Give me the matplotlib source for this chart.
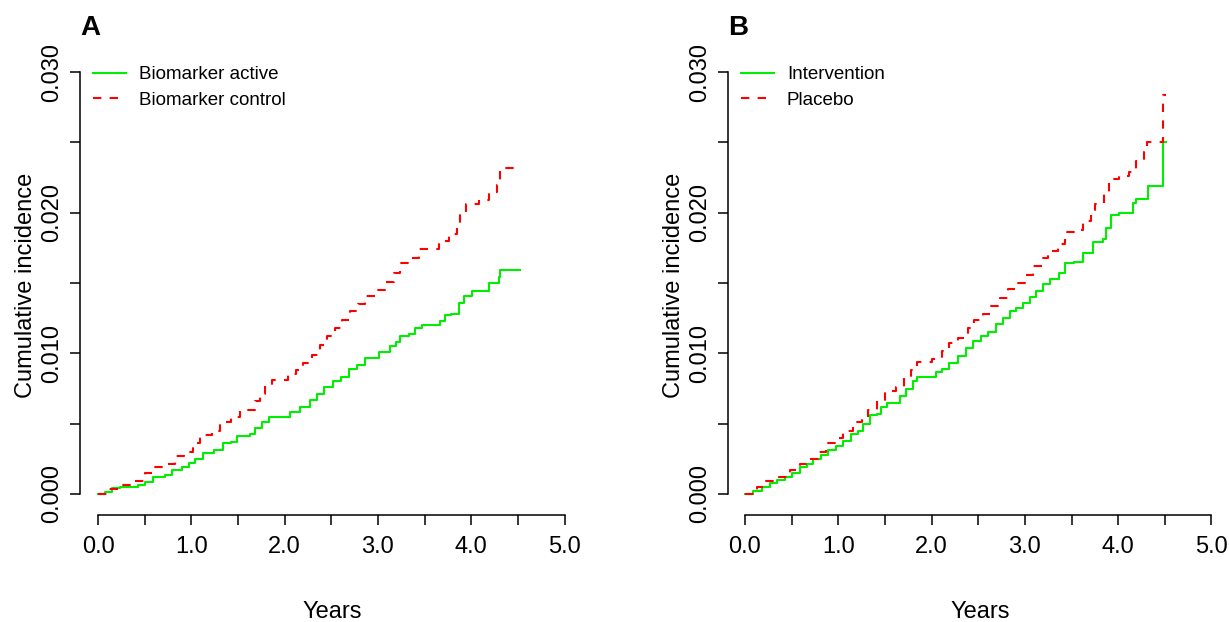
import numpy as np
import matplotlib
matplotlib.use("Agg")
import matplotlib.pyplot as plt
from matplotlib.ticker import FixedLocator, FuncFormatter

plt.rcParams['font.family'] = ['Liberation Sans', 'DejaVu Sans']

# Panel A: biomarker groups (time in years, cumulative incidence)
a_active_t = [0.0, 0.075, 0.147, 0.236, 0.343, 0.43, 0.50, 0.59, 0.72, 0.79, 0.90, 0.97,
              1.04, 1.13, 1.24, 1.34, 1.43, 1.49, 1.63, 1.68, 1.76, 1.83, 2.06, 2.17,
              2.27, 2.35, 2.42, 2.52, 2.60, 2.69, 2.78, 2.86, 3.01, 3.13, 3.19, 3.24,
              3.33, 3.40, 3.47, 3.67, 3.72, 3.78, 3.87, 3.92, 4.01, 4.19, 4.30, 4.31, 4.52]
a_active_v = [0.0, 0.00016, 0.0004, 0.00048, 0.00052, 0.00064, 0.00088, 0.00123, 0.00135, 0.0017, 0.0019, 0.0022,
              0.0025, 0.0029, 0.0031, 0.0036, 0.0037, 0.0041, 0.0043, 0.0047, 0.0051, 0.0055, 0.0058, 0.0062,
              0.0067, 0.0071, 0.0076, 0.0080, 0.0083, 0.0089, 0.0092, 0.0097, 0.0101, 0.0105, 0.0108, 0.0112,
              0.0114, 0.0118, 0.0120, 0.0123, 0.0127, 0.0128, 0.0136, 0.0141, 0.0144, 0.0150, 0.0154, 0.0159, 0.0159]

a_control_t = [0.0, 0.11, 0.25, 0.40, 0.50, 0.59, 0.72, 0.83, 0.92, 1.02, 1.09, 1.22,
               1.31, 1.43, 1.52, 1.68, 1.74, 1.79, 1.86, 2.04, 2.12, 2.20, 2.29, 2.38,
               2.45, 2.54, 2.61, 2.70, 2.79, 2.86, 2.99, 3.08, 3.17, 3.24, 3.34, 3.44,
               3.65, 3.76, 3.85, 3.88, 3.94, 4.08, 4.19, 4.28, 4.31, 4.52]
a_control_v = [0.0, 0.00033, 0.00064, 0.00095, 0.0015, 0.0019, 0.0021, 0.0027, 0.0030, 0.0036, 0.0042, 0.0045,
               0.0051, 0.0055, 0.0060, 0.0066, 0.0071, 0.0077, 0.0081, 0.0085, 0.0088, 0.0093, 0.0099, 0.0106,
               0.0112, 0.0118, 0.0124, 0.0130, 0.0135, 0.0141, 0.0145, 0.0151, 0.0157, 0.0164, 0.0168, 0.0174,
               0.0180, 0.0185, 0.0191, 0.0200, 0.0206, 0.0209, 0.0215, 0.0220, 0.0232, 0.0232]

# Panel B: treatment groups
b_interv_t = [0.0, 0.09, 0.18, 0.27, 0.34, 0.43, 0.50, 0.59, 0.66, 0.73, 0.82, 0.89,
              0.98, 1.05, 1.14, 1.21, 1.27, 1.34, 1.41, 1.46, 1.52, 1.66, 1.73, 1.80,
              1.84, 2.05, 2.11, 2.19, 2.28, 2.37, 2.44, 2.53, 2.61, 2.69, 2.77, 2.84,
              2.91, 2.98, 3.05, 3.12, 3.19, 3.27, 3.37, 3.43, 3.53, 3.62, 3.73, 3.84,
              3.87, 3.92, 4.01, 4.16, 4.19, 4.32, 4.48, 4.51]
b_interv_v = [0.0, 0.00024, 0.00047, 0.0008, 0.0010, 0.0012, 0.0015, 0.0019, 0.0021, 0.0025, 0.0028, 0.0031,
              0.0034, 0.0038, 0.0043, 0.0045, 0.0050, 0.0056, 0.0057, 0.0062, 0.0065, 0.0070, 0.0075, 0.0080,
              0.0083, 0.0087, 0.0089, 0.0093, 0.0098, 0.0104, 0.0109, 0.0112, 0.0115, 0.0121, 0.0125, 0.0130,
              0.0132, 0.0136, 0.0140, 0.0144, 0.0149, 0.0153, 0.0157, 0.0164, 0.0165, 0.0171, 0.0179, 0.0181,
              0.0189, 0.0198, 0.0200, 0.0207, 0.0210, 0.0219, 0.0250, 0.0250]

b_placebo_t = [0.0, 0.125, 0.23, 0.36, 0.48, 0.59, 0.68, 0.78, 0.87, 0.98, 1.05, 1.16,
               1.25, 1.32, 1.41, 1.50, 1.62, 1.70, 1.78, 1.84, 2.00, 2.11, 2.19, 2.28,
               2.39, 2.46, 2.55, 2.64, 2.73, 2.82, 2.91, 3.00, 3.09, 3.18, 3.25, 3.35,
               3.43, 3.55, 3.62, 3.71, 3.75, 3.85, 3.90, 4.01, 4.12, 4.19, 4.28, 4.31,
               4.48, 4.51]
b_placebo_v = [0.0, 0.00047, 0.0009, 0.0012, 0.0017, 0.0021, 0.0025, 0.0030, 0.0036, 0.0040, 0.0045, 0.0051,
               0.0053, 0.0060, 0.0066, 0.0073, 0.0076, 0.0083, 0.0088, 0.0094, 0.0096, 0.0102, 0.0107, 0.0111,
               0.0118, 0.0124, 0.0128, 0.0134, 0.0139, 0.0146, 0.0150, 0.0156, 0.0162, 0.0168, 0.0173, 0.0178,
               0.0186, 0.0188, 0.0194, 0.0200, 0.0206, 0.0213, 0.0224, 0.0226, 0.0229, 0.0237, 0.0243, 0.0250,
               0.0284, 0.0284]

panels = [
    ("A", 80, -0.193, a_active_t, a_active_v, a_control_t, a_control_v,
     ["Biomarker active", "Biomarker control"]),
    ("B", 728, -0.182, b_interv_t, b_interv_v, b_placebo_t, b_placebo_v,
     ["Intervention", "Placebo"]),
]

W, H = 1229, 622
fig = plt.figure(figsize=(W / 100, H / 100), dpi=100)

x_ticks = np.arange(0, 5.01, 0.5)
y_ticks = np.arange(0, 0.0301, 0.005)

for letter, left_px, xmin, t1, v1, t2, v2, labels in panels:
    ax = fig.add_axes([left_px / W, (H - 515) / H, 500 / W, 460 / H])
    ax.step(t1, v1, where='post', color='#00ee00', lw=1.5, label=labels[0])
    ax.step(t2, v2, where='post', color='#ff0000', lw=1.5, dashes=(4, 4), label=labels[1])

    ax.set_xlim(xmin, xmin + 500 / 93.3)
    ax.set_ylim(-0.001493, 0.03121)
    for s in ['top', 'right']:
        ax.spines[s].set_visible(False)
    ax.spines['bottom'].set_bounds(0, 5)
    ax.spines['left'].set_bounds(0, 0.03)
    for s in ['bottom', 'left']:
        ax.spines[s].set_linewidth(1.1)

    ax.xaxis.set_major_locator(FixedLocator(x_ticks))
    ax.yaxis.set_major_locator(FixedLocator(y_ticks))
    ax.xaxis.set_major_formatter(FuncFormatter(
        lambda v, p: "%.1f" % v if abs(v - round(v)) < 1e-9 else ""))
    ax.yaxis.set_major_formatter(FuncFormatter(
        lambda v, p: "%.3f" % v if abs(v * 100 - round(v * 100)) < 1e-9 else ""))
    ax.tick_params(direction='out', length=7, width=1.1, labelsize=17)
    ax.tick_params(axis='x', pad=8)
    ax.tick_params(axis='y', pad=5)
    for lab in ax.get_yticklabels():
        lab.set_rotation(90)
        lab.set_va('center')

    ax.set_xlabel("Years", fontsize=17)
    ax.xaxis.set_label_coords(0.504, -0.187)
    ax.set_ylabel("Cumulative incidence", fontsize=17)
    ax.yaxis.set_label_coords(-0.086, 0.5)

    ax.legend(loc='upper left', bbox_to_anchor=(0.026, 0.976), frameon=False,
              fontsize=13.5, handlelength=1.75, handletextpad=0.7,
              labelspacing=0.46, borderaxespad=0, borderpad=0)

    fig.text(left_px / W, 1 - 35 / H, letter, fontsize=20, fontweight='bold',
             ha='left', va='baseline')

fig.savefig("out.png", dpi=100)
